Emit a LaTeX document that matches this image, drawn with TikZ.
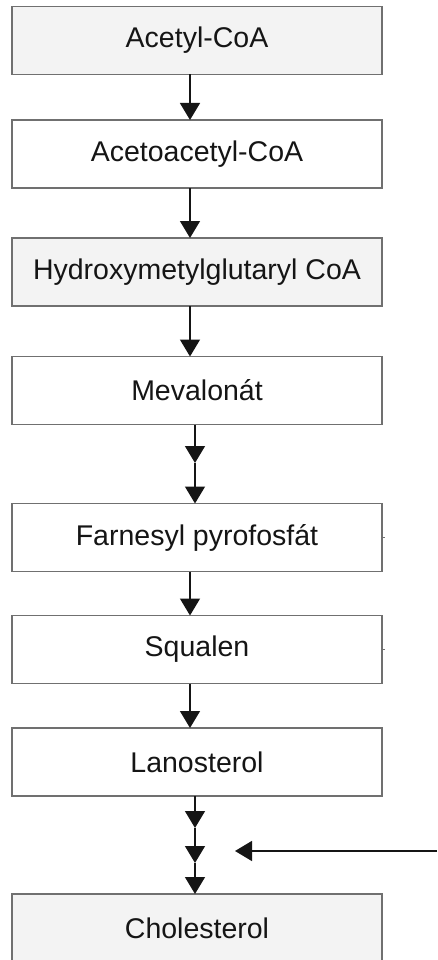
\documentclass[tikz,border=0pt]{standalone}
\usepackage{fontspec}
\setmainfont{Liberation Sans}
\usetikzlibrary{arrows.meta}
\definecolor{boxgray}{HTML}{F3F3F3}
\definecolor{edgegray}{HTML}{707070}
\definecolor{ink}{HTML}{151515}
\begin{document}
\begin{tikzpicture}[x=1pt,y=-1pt,
  stage/.style={draw=edgegray, line width=1.6pt, fill=white, minimum width=370pt,
    minimum height=68pt, inner sep=0pt, outer sep=0pt, text=ink,
    font=\fontsize{28.5}{33}\selectfont},
  shaded/.style={stage, fill=boxgray},
  flow/.style={draw=ink, line width=1.4pt, -{Triangle[width=20pt,length=17pt]}},
  tick/.style={draw=edgegray, line width=1.4pt}]
\useasboundingbox (0,0) rectangle (437,960);
\clip (0,0) rectangle (437,960);
\fill[white] (0,0) rectangle (437,960);
\node[shaded] (acetyl) at (197,40.5) {Acetyl-CoA};
\node[stage]  (acetoac) at (197,154) {Acetoacetyl-CoA};
\node[shaded] (hmg) at (197,272) {Hydroxymetylglutaryl CoA};
\node[stage]  (mev) at (197,390.5) {Mevalonát};
\node[stage]  (farn) at (197,537.5) {Farnesyl pyrofosfát};
\node[stage]  (squal) at (197,649.5) {Squalen};
\node[stage]  (lano) at (197,762) {Lanosterol};
\node[shaded] (chol) at (197,928) {Cholesterol};
% ticks on right edges
\draw[tick] (farn.east) -- ++(3,0);
\draw[tick] (squal.east) -- ++(3,0);
% single arrows
\draw[flow] ([xshift=-7pt]acetyl.south) -- ([xshift=-7pt]acetoac.north);
\draw[flow] ([xshift=-7pt]acetoac.south) -- ([xshift=-7pt]hmg.north);
\draw[flow] ([xshift=-7pt]hmg.south) -- ([xshift=-7pt]mev.north);
\draw[flow] ([xshift=-7pt]farn.south) -- ([xshift=-7pt]squal.north);
\draw[flow] ([xshift=-7pt]squal.south) -- ([xshift=-7pt]lano.north);
% double arrow mev -> farn
\coordinate (m1) at (195,463);
\draw[flow] ([xshift=-2pt]mev.south) -- (m1);
\draw[flow] (m1) -- ([xshift=-2pt]farn.north);
% triple arrow lano -> chol
\coordinate (l1) at (195,828);
\coordinate (l2) at (195,863);
\draw[flow] ([xshift=-2pt]lano.south) -- (l1);
\draw[flow] (l1) -- (l2);
\draw[flow] (l2) -- ([xshift=-2pt]chol.north);
% side arrow
\coordinate (sideSrc) at (437,851);
\coordinate (sideTip) at (235,851);
\draw[flow] (sideSrc) -- (sideTip);
\end{tikzpicture}
\end{document}
